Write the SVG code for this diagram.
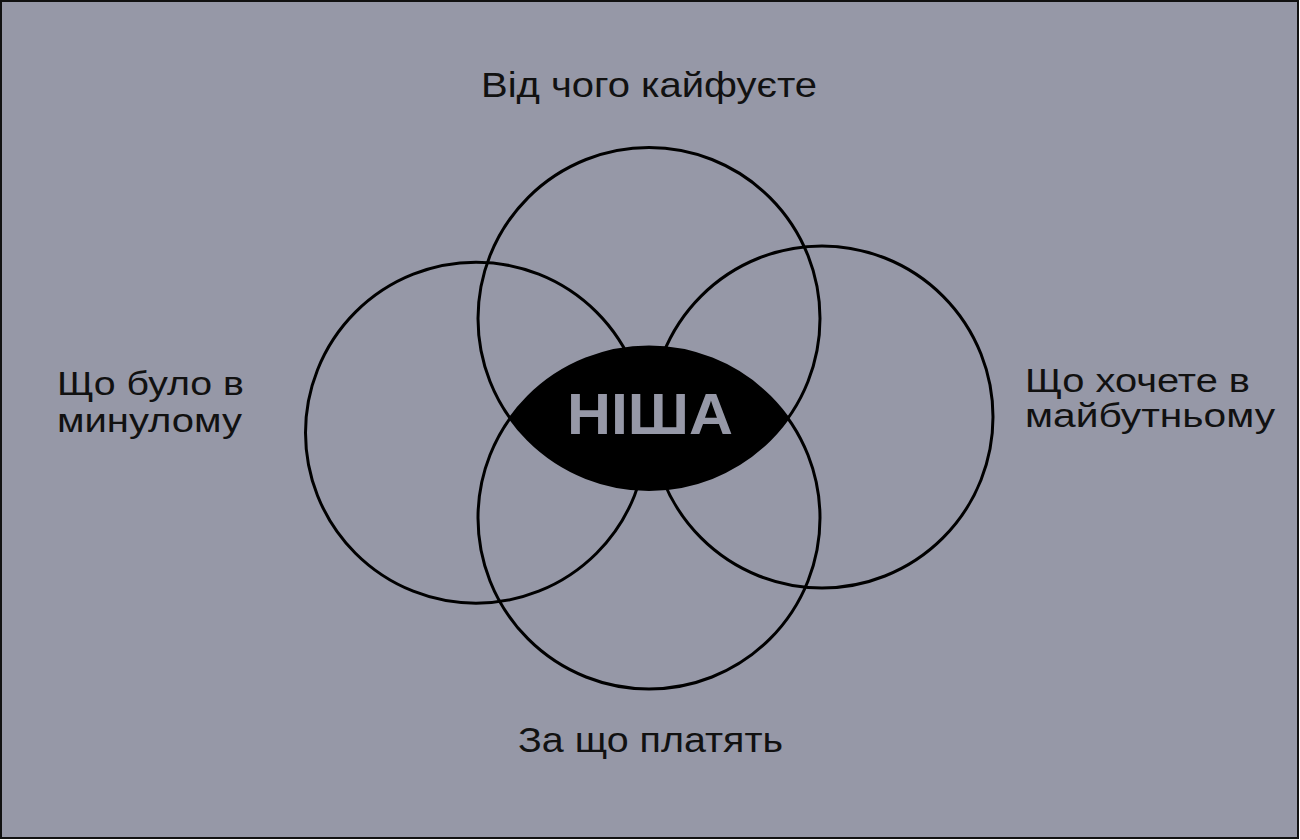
<svg xmlns="http://www.w3.org/2000/svg" width="1300" height="840" viewBox="0 0 1300 840">
  <style>
    .ring { fill: none; stroke: #000; stroke-width: 3; }
    .lbl { font-family: "Liberation Sans", Arial, sans-serif; font-size: 33px; fill: #111; }
    .big { font-size: 35px; }
    .core { font-family: "Liberation Sans", Arial, sans-serif; font-size: 58px; font-weight: bold; fill: #9698a7; }
  </style>
  <rect x="1" y="1" width="1297" height="837" fill="#9698a7" stroke="#111" stroke-width="2"/>
  <g id="circle-top"><circle class="ring" cx="649" cy="318.5" r="171"/></g>
  <g id="circle-left"><circle class="ring" cx="476" cy="432.7" r="170.5"/></g>
  <g id="circle-right"><circle class="ring" cx="822" cy="417" r="171"/></g>
  <g id="circle-bottom"><circle class="ring" cx="649" cy="518" r="171"/></g>
  <g id="niche">
    <path d="M 510.1 418.25 A 171 171 0 0 1 787.9 418.25 A 171 171 0 0 1 510.1 418.25 Z" fill="#000"/>
    <text class="core" x="650" y="434" text-anchor="middle" textLength="166" lengthAdjust="spacingAndGlyphs">НІША</text>
  </g>
  <g id="label-top">
    <text class="lbl big" x="481" y="97" textLength="336" lengthAdjust="spacingAndGlyphs">Від чого кайфуєте</text>
  </g>
  <g id="label-left">
    <text class="lbl" x="57" y="395" textLength="187" lengthAdjust="spacingAndGlyphs">Що було в</text>
    <text class="lbl" x="57" y="432" textLength="185" lengthAdjust="spacingAndGlyphs">минулому</text>
  </g>
  <g id="label-right">
    <text class="lbl" x="1025" y="392" textLength="225" lengthAdjust="spacingAndGlyphs">Що хочете в</text>
    <text class="lbl" x="1025" y="427" textLength="250" lengthAdjust="spacingAndGlyphs">майбутньому</text>
  </g>
  <g id="label-bottom">
    <text class="lbl big" x="518" y="752" textLength="265" lengthAdjust="spacingAndGlyphs">За що платять</text>
  </g>
  <g id="connectors"></g>
</svg>
